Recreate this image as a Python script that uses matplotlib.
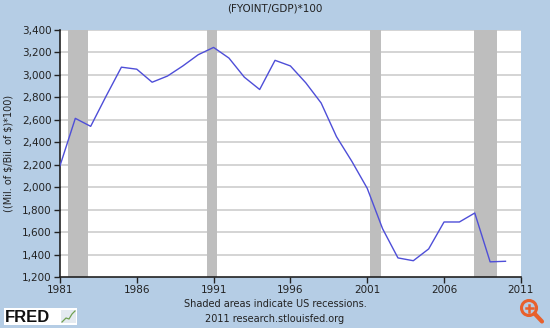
import matplotlib
matplotlib.use("Agg")
import matplotlib.pyplot as plt
from matplotlib.patches import Circle, Rectangle

years = list(range(1981, 2011))
values = [2190, 2613, 2542, 2810, 3069, 3051, 2935, 2990, 3080, 3180,
          3245, 3150, 2980, 2870, 3130, 3080, 2930, 2750, 2450, 2230,
          1990, 1630, 1370, 1345, 1450, 1690, 1690, 1770, 1335, 1340]
recessions = [(1981.5, 1982.85), (1990.55, 1991.2), (2001.2, 2001.9), (2007.95, 2009.45)]
xticks = [1981, 1986, 1991, 1996, 2001, 2006, 2011]
yticks = [1200, 1400, 1600, 1800, 2000, 2200, 2400, 2600, 2800, 3000, 3200, 3400]

bg = "#B5CDE5"
fig = plt.figure(figsize=(5.5, 3.28), dpi=100, facecolor=bg)
ax = fig.add_axes([0.109, 0.1555, 0.838, 0.753])
ax.set_facecolor("white")

for a, b in recessions:
    ax.axvspan(a, b, color="#BEBEBE", lw=0, zorder=1)
for y in yticks[1:]:
    ax.axhline(y, color="#D4D4D4", lw=1.4, zorder=0.5)

ax.plot(years, values, color="#4E4ED8", lw=1.0, zorder=3)

ax.set_xlim(1981, 2011)
ax.set_ylim(1200, 3400)
ax.set_xticks(xticks)
ax.set_yticks(yticks)
ax.set_yticklabels([f"{v:,}" for v in yticks])
ax.tick_params(labelsize=7.5, colors="#222222", length=4, width=1, pad=2)
for s in ["top", "right"]:
    ax.spines[s].set_visible(False)
for s in ["left", "bottom"]:
    ax.spines[s].set_color("#222222")
    ax.spines[s].set_linewidth(1.2)

ax.set_ylabel(r"((Mil. of \$/Bil. of \$)*100)", fontsize=7, color="#222222", labelpad=6)
fig.text(0.5, 0.975, "(FYOINT/GDP)*100", ha="center", va="center", fontsize=7.5, color="#222222")
fig.text(0.5, 0.073, "Shaded areas indicate US recessions.", ha="center", va="center", fontsize=7, color="#222222")
fig.text(0.5, 0.027, "2011 research.stlouisfed.org", ha="center", va="center", fontsize=7, color="#222222")

# overlay in pixel coordinates for logo and icon
ov = fig.add_axes([0, 0, 1, 1], facecolor="none")
ov.set_xlim(0, 550)
ov.set_ylim(328, 0)
ov.set_aspect("equal")
ov.axis("off")

# FRED logo
ov.add_patch(Rectangle((4, 308), 73, 17, facecolor="white", edgecolor="none"))
ov.text(5, 317, "FRED", ha="left", va="center", fontsize=12, fontweight="heavy",
        family="Liberation Sans", color="#111111")
ov.add_patch(Rectangle((61, 310), 15, 13, facecolor="#E4EAF0", edgecolor="none"))
ov.plot([62, 66, 69, 72, 75], [322, 318, 319, 314, 311], color="#6FA050", lw=0.9)

# zoom icon
ov.add_patch(Circle((529, 308), 7.5, facecolor="none", edgecolor="#E8602C", lw=2.2))
ov.plot([534.5, 542], [313.5, 321.5], color="#E8602C", lw=3, solid_capstyle="round")
ov.plot([529, 529], [304.5, 311.5], color="#E8602C", lw=1.8)
ov.plot([525.5, 532.5], [308, 308], color="#E8602C", lw=1.8)

fig.savefig("out.png", dpi=100, facecolor=bg)
